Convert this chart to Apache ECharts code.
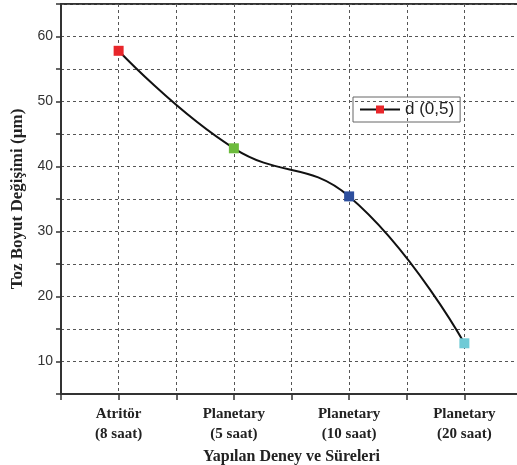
<!DOCTYPE html>
<html>
<head>
<meta charset="utf-8">
<script src="https://cdn.jsdelivr.net/npm/echarts@6/dist/echarts.min.js"></script>
<style>
  html, body { margin: 0; padding: 0; background: #fff; }
  #main { width: 517px; height: 465px; }
</style>
</head>
<body>
<div id="main"></div>
<script>
// deney adlari ve sureleri
var categories = ['Atritör', 'Planetary', 'Planetary', 'Planetary'];
var durations = ['(8 saat)', '(5 saat)', '(10 saat)', '(20 saat)'];
// d (0,5) degerleri (µm)
var values = [57.8, 42.8, 35.4, 12.8];
var markerColors = ['#e8262a', '#6cbb3c', '#2d4f9e', '#6fcad6'];
var seriesName = 'd (0,5)';

var seriesData = values.map(function (v, i) {
  return { value: [i + 1, v], itemStyle: { color: markerColors[i] } };
});

var myChart = echarts.init(document.getElementById('main'));

var serif = 'Liberation Serif';
var sans = 'Liberation Sans';

var option = {
  animation: false,
  grid: {
    left: 61, top: 4, right: -5, bottom: 71,
    outerBoundsMode: 'none',
    containLabel: false,
    show: true, borderColor: '#333', borderWidth: 2
  },
  legend: {
    left: 353, top: 97,
    padding: [4, 6, 4, 6],
    borderColor: '#666', borderWidth: 1,
    itemWidth: 40, itemHeight: 10, itemGap: 4,
    textStyle: { fontFamily: sans, fontSize: 17, color: '#222' },
    data: [seriesName]
  },
  xAxis: {
    type: 'value',
    min: 0.5, max: 4.5, interval: 0.5,
    name: 'Yapılan Deney ve Süreleri',
    nameLocation: 'middle',
    nameGap: 49,
    nameTextStyle: { fontFamily: serif, fontWeight: 'bold', fontSize: 16, color: '#222' },
    axisLine: { lineStyle: { color: '#333', width: 2 } },
    axisTick: { length: 6, lineStyle: { color: '#333', width: 1.5 } },
    axisLabel: {
      margin: 10,
      fontFamily: serif, fontWeight: 'bold', fontSize: 15, color: '#222', lineHeight: 20,
      formatter: function (v) {
        if (Math.abs(v - Math.round(v)) > 1e-6) return '';
        var i = Math.round(v) - 1;
        return categories[i] ? categories[i] + '\n' + durations[i] : '';
      }
    },
    splitLine: { show: true, lineStyle: { color: '#555', width: 1, type: [3, 3] } }
  },
  yAxis: {
    type: 'value',
    min: 5, max: 65, interval: 5,
    name: 'Toz Boyut Değişimi (µm)',
    nameLocation: 'middle',
    nameGap: 30,
    nameTextStyle: { fontFamily: serif, fontWeight: 'bold', fontSize: 17, color: '#222' },
    axisLine: { show: true, lineStyle: { color: '#333', width: 2 } },
    axisTick: { length: 5, lineStyle: { color: '#333', width: 1.5 } },
    axisLabel: {
      margin: 8,
      fontFamily: sans, fontSize: 14, color: '#333',
      formatter: function (v) {
        return (v % 10 === 0 && v >= 10 && v <= 60) ? String(v) : '';
      }
    },
    splitLine: { show: true, lineStyle: { color: '#555', width: 1, type: [3, 3] } }
  },
  series: [{
    name: seriesName,
    type: 'line',
    smooth: 0.45,
    symbol: 'rect',
    symbolSize: 10,
    lineStyle: { color: '#111', width: 2 },
    itemStyle: { color: '#e8262a' },
    data: seriesData,
    z: 5
  }]
};
myChart.setOption(option);
</script>
</body>
</html>
